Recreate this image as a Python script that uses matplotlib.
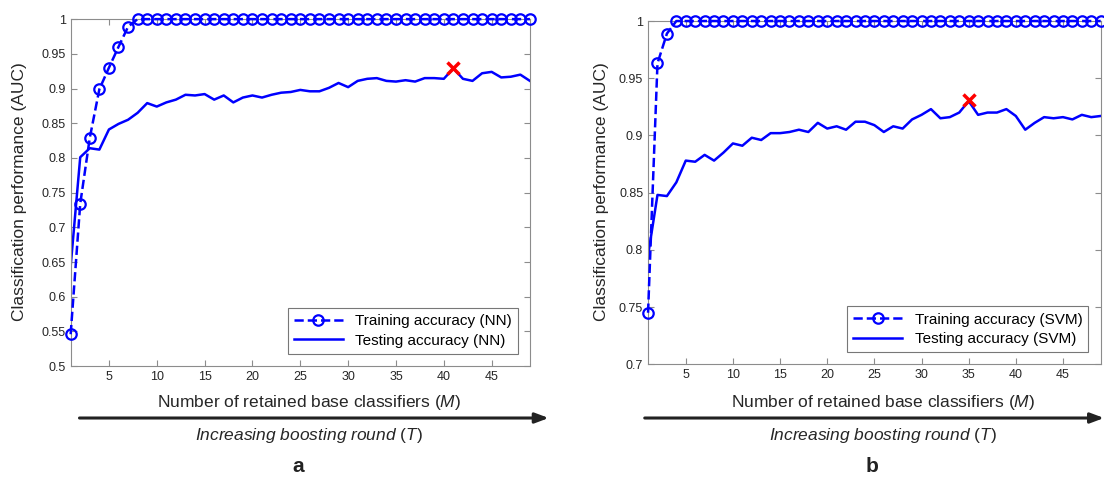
import numpy as np
import matplotlib
matplotlib.use("Agg")
import matplotlib.pyplot as plt

plt.rcParams['font.family'] = ['Liberation Sans', 'DejaVu Sans']
plt.rcParams['mathtext.fontset'] = 'custom'
plt.rcParams['mathtext.rm'] = 'Liberation Sans'
plt.rcParams['mathtext.it'] = 'Liberation Sans:italic'

rounds = np.arange(1, 50)

# panel a: NN
train_nn = [0.546, 0.734, 0.829, 0.899, 0.930, 0.960, 0.989] + [1.0] * 42
test_nn = [0.644, 0.801, 0.814, 0.812, 0.841, 0.849, 0.855, 0.865, 0.879, 0.874,
           0.880, 0.884, 0.891, 0.890, 0.892, 0.884, 0.890, 0.880, 0.887, 0.890,
           0.887, 0.891, 0.894, 0.895, 0.898, 0.896, 0.896, 0.901, 0.908, 0.902,
           0.911, 0.914, 0.915, 0.911, 0.910, 0.912, 0.910, 0.915, 0.915, 0.914,
           0.929, 0.914, 0.911, 0.922, 0.924, 0.916, 0.917, 0.920, 0.911]
best_nn = (41, 0.929)

# panel b: SVM
train_svm = [0.745, 0.963, 0.989] + [1.0] * 46
test_svm = [0.795, 0.848, 0.847, 0.859, 0.878, 0.877, 0.883, 0.878, 0.885, 0.893,
            0.891, 0.898, 0.896, 0.902, 0.902, 0.903, 0.905, 0.903, 0.911, 0.906,
            0.908, 0.905, 0.912, 0.912, 0.909, 0.903, 0.908, 0.906, 0.914, 0.918,
            0.923, 0.915, 0.916, 0.920, 0.930, 0.918, 0.920, 0.920, 0.923, 0.917,
            0.905, 0.911, 0.916, 0.915, 0.916, 0.914, 0.918, 0.916, 0.917]
best_svm = (35, 0.931)

blue = '#0000ff'
spine_gray = '#8c8c8c'
text_gray = '#262626'

fig = plt.figure(figsize=(11.04, 4.78), dpi=100)
ax_a = fig.add_axes([0.064, 0.234, 0.416, 0.726])
ax_b = fig.add_axes([0.587, 0.238, 0.410, 0.718])


def draw_panel(ax, train, test, best, name, ylim, yticks):
    ax.plot(rounds, train, '--o', color=blue, lw=1.8, ms=7.5, mfc='none',
            mew=1.6, clip_on=False, zorder=4,
            label='Training accuracy (%s)' % name)
    ax.plot(rounds, test, '-', color=blue, lw=1.8,
            label='Testing accuracy (%s)' % name)
    ax.plot(best[0], best[1], 'x', color='#ff0000', ms=9, mew=2.5, zorder=5)
    ax.set_xlim(1, 49)
    ax.set_ylim(*ylim)
    ax.set_xticks(np.arange(5, 50, 5))
    ax.set_yticks(yticks)
    ax.set_yticklabels(['%g' % t for t in yticks])
    ax.tick_params(direction='in', top=True, right=True, length=4,
                   color=spine_gray, labelcolor=text_gray, labelsize=9)
    for sp in ax.spines.values():
        sp.set_color(spine_gray)
    leg = ax.legend(loc='lower right', fontsize=11, fancybox=False,
                    borderaxespad=0.8, handlelength=3.2, labelspacing=0.35)
    leg.get_frame().set_edgecolor('#555555')
    leg.get_frame().set_linewidth(0.8)


draw_panel(ax_a, train_nn, test_nn, best_nn, 'NN', (0.5, 1.0),
           np.round(np.arange(0.5, 1.001, 0.05), 2))
draw_panel(ax_b, train_svm, test_svm, best_svm, 'SVM', (0.7, 1.0),
           np.round(np.arange(0.7, 1.001, 0.05), 2))

# axis labels and annotations in figure coordinates
for xc, letter, x0, x1 in [(0.280, 'a', 0.072, 0.497),
                           (0.800, 'b', 0.584, 1.0)]:
    fig.text(xc, 0.157, r'Number of retained base classifiers ($\it{M}$)',
             ha='center', va='center', fontsize=12.5, color=text_gray)
    fig.text(xc, 0.088, r'$\it{Increasing\ boosting\ round}$ ($\it{T}$)',
             ha='center', va='center', fontsize=12.5, color=text_gray)
    fig.text(xc - 0.01, 0.025, letter, ha='center', va='center',
             fontsize=15, fontweight='bold', color='#222222')
    ax_a.annotate('', xy=(x1, 0.1255), xytext=(x0, 0.1255),
                  xycoords='figure fraction', textcoords='figure fraction',
                  annotation_clip=False,
                  arrowprops=dict(arrowstyle='-|>,head_length=0.8,head_width=0.3',
                                  color='#222222', lw=2.2,
                                  shrinkA=0, shrinkB=0))

fig.text(0.018, 0.6, 'Classification performance (AUC)', rotation=90,
         ha='center', va='center', fontsize=12.5, color=text_gray)
fig.text(0.545, 0.6, 'Classification performance (AUC)', rotation=90,
         ha='center', va='center', fontsize=12.5, color=text_gray)

fig.savefig('out.png', dpi=100)
